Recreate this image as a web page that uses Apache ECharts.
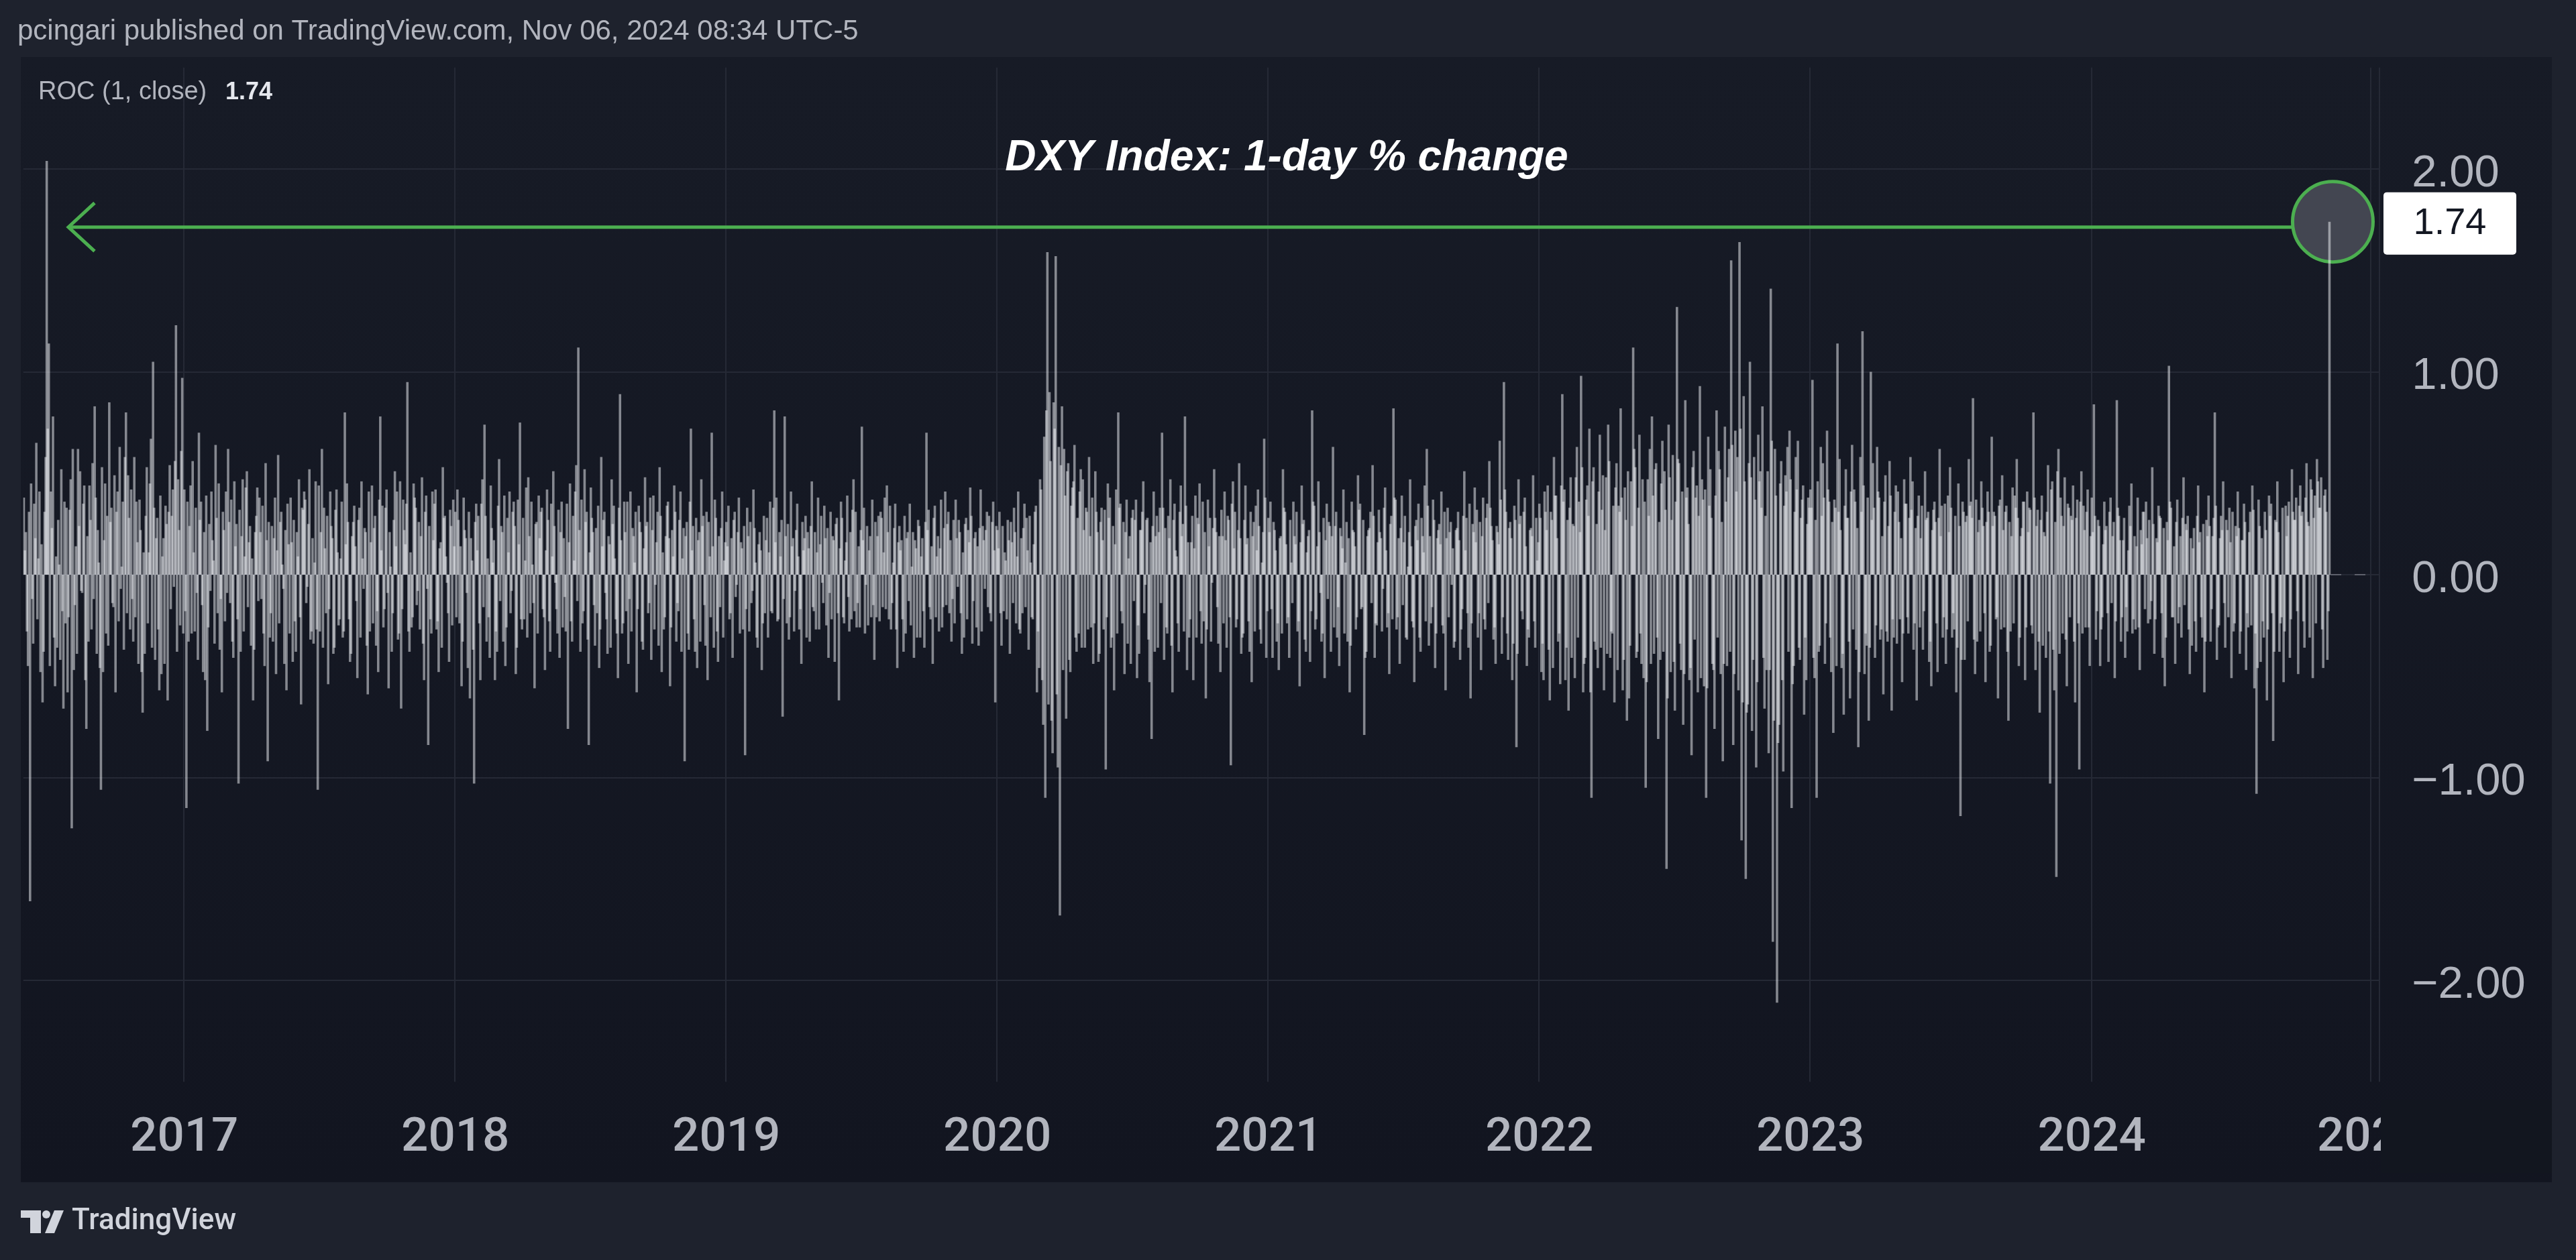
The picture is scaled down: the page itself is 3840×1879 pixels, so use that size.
<!DOCTYPE html>
<html><head><meta charset="utf-8">
<script src="https://cdn.jsdelivr.net/npm/echarts@6/dist/echarts.min.js"></script>
<style>
html,body{margin:0;padding:0;background:#1e222d;width:3840px;height:1879px;overflow:hidden}
#pane{position:absolute;left:31px;top:85px;width:3773px;height:1678px;background:linear-gradient(#171b26,#121520)}
#c{position:absolute;left:0;top:0;width:3840px;height:1879px}
</style></head><body><div id="pane"></div><div id="c"></div>
<script>
// DXY 1-day % change (ROC 1, close).
// vYYYY = odd sessions of the year (1st, 3rd, 5th ...), wYYYY = even sessions (2nd, 4th ...)
const v2016=[.38,.21,-.45,-1.61,-.12,.35,.65,.08,-.48,-.63,
.31,2.04,1.14,.41,.78,-.55,-.36,.05,.52,-.66,
-.24,-.58,.32,-1.25,-.47,.14,.62,.51,-.09,.44,
-.76,-.33,.27,.55,.83,-.39,.06,-1.06,-.48,.45,
.29,.85,.33,-.16,-.58,.41,.63,.04,-.37,.80,
.49,-.27,-.12,.58,.36,-.44,.22,-.68,-.39,.53,
.11,.67,1.05,-.42,.28,-.57,-.49,.18,.34,-.62,
.54,.29,-.06,1.23,.47,-.25,.97];
const w2016=[.12,-.28,.31,.45,-.34,.18,-.22,.41,.15,-.38,
.58,.72,-.45,.23,-.31,.09,.27,-.42,-.18,.36,
.33,-.21,.47,.62,-.15,-.39,.24,-.08,.35,-.52,
.19,.44,-.27,-.12,.38,.22,-.46,.53,.17,-.29,
-.35,.26,-.14,.49,.31,-.23,-.07,.36,.58,-.19,
.28,.42,-.33,-.21,.16,.37,-.48,.11,.29,-.24,
.45,-.36,.33,.18,-.27,.39,.09,-.44,.25,.31,
-.17,.42,.56,-.38,.22,.61,-.29];
const v2017=[.42,-1.15,-.33,.44,.56,-.28,-.09,.70,.36,-.48,
-.52,-.77,.25,.41,.07,.64,-.19,-.37,-.58,.22,
.41,.62,-.14,-.33,.46,.25,-1.03,-.38,.47,.09,
.51,.16,-.35,-.62,.21,.43,.38,-.12,-.29,.55,
-.92,-.31,.24,.18,-.49,.59,.26,.05,-.44,-.57,
.15,.38,-.43,-.23,.21,.47,-.64,.32,.37,-.06,
.52,-.28,-.34,.46,-1.06,-.28,.62,.33,-.19,-.54,
.41,.18,-.36,.42,-.25,.08,-.31,.80,.45,-.22,
-.39,.26,.14,-.51,.33,.46,-.07,.21,-.59,-.28,
.44,.23,-.35,-.48,.78,.34,-.17,.42,-.56,.04,
-.19,.51,.41,-.29,-.66,.37,.15,.95,-.38,-.26,
.45,.33,-.08,-.27,.48,-.52,.39,-.84,-.22,.41,
.35,-.27,-.48,.16,.53,.29,-.04,-.43,.24,.37];
const w2017=[-.18,.36,.24,-.29,.11,.33,-.42,.27,-.15,.21,
.39,-.26,-.08,.17,-.34,.28,.45,-.12,.31,-.23,
-.09,.26,.37,-.41,.14,-.22,.32,.19,-.28,.43,
-.16,.24,.08,-.37,.29,-.13,.21,.34,-.45,.17,
.26,-.19,-.33,.38,.12,-.24,.31,-.07,.22,.35,
-.29,.16,.27,-.38,.09,-.21,.33,.41,-.14,.25,
-.32,.18,.06,-.27,.44,.21,-.36,.13,.29,-.17,
.24,-.39,.32,.11,-.22,.36,-.28,.15,.26,-.43,
.19,.34,-.13,.27,-.31,.08,.23,-.35,.41,.16,
-.24,.29,-.18,.37,.12,-.26,.33,-.09,.21,-.38,
.27,.14,-.32,.46,-.17,.22,.35,-.28,.11,-.21,
.38,-.15,.26,.19,-.34,.31,-.07,.24,-.29,.17,
.42,-.23,.13,-.36,.28,.09,-.19,.32,-.25,.14];
const v2018=[.31,.42,-.24,-.55,.38,.18,-.46,-.61,.07,-1.03,
.35,.29,-.52,.47,.74,-.33,-.21,.44,.06,-.52,
-.38,.57,.24,-.33,-.45,.28,.41,-.08,.36,-.49,
.37,.75,-.27,-.22,.43,.48,-.19,.05,-.56,.26,
.39,.31,-.17,-.47,.42,-.23,.35,.51,-.04,-.29,
-.41,.36,.18,-.28,-.76,.45,-.33,.07,.54,1.12,
-.38,-.24,.52,.31,-.84,.43,.21,-.35,-.19,-.46,
.58,.27,-.09,-.39,.15,.47,.34,-.22,-.51,.89,
-.29,.36,-.18,-.44,.41,.23,.06,-.58,.34,.21,
-.37,.48,.26,-.14,-.42,.39,-.05,.31,.53,-.48,
-.27,.19,.36,-.55,.22,.44,-.33,-.18,.41,.08,
-.92,.26,-.37,.72,.24,-.38,-.46,.21,.47,.29,
-.35,-.52,.09,.70,-.36,.28,-.43,-.16,.41,.07];
const w2018=[-.21,.27,.14,-.33,.22,-.09,.31,.18,-.37,.26,
.12,-.24,.35,-.16,.29,.08,-.41,.23,.17,-.28,
.34,-.13,.21,.39,-.26,.11,-.19,.31,.24,-.36,
.15,-.22,.28,.07,-.31,.19,.36,-.14,.25,-.29,
.18,.33,-.21,.12,.27,-.38,.09,.24,-.17,.32,
.21,-.26,-.11,.35,.16,-.23,.29,.41,-.13,.22,
.37,-.18,.26,-.32,.11,.28,-.15,.23,.34,-.27,
.14,.31,-.22,.19,-.36,.25,.08,-.29,.33,.17,
-.24,.21,.36,-.12,-.28,.19,.31,-.17,.26,-.33,
.13,.24,-.19,.38,.22,-.27,.16,-.35,.29,.11,
-.21,.34,.18,-.26,.09,.31,-.14,.27,-.38,.23,
.19,-.29,.36,.12,-.22,.28,.17,-.33,.24,-.15,
.31,.26,-.21,.14,.37,-.28,.19,.23,-.31,.16];
const v2019=[.26,.34,-.19,-.41,.31,-.05,.38,.16,-.27,-.89,
.33,-.28,-.14,.42,.06,-.36,.21,-.47,.29,.17,
-.31,.36,-.19,.81,.38,-.22,.09,-.70,.78,-.24,
-.32,.41,.18,-.08,.35,-.27,-.44,.12,.29,.21,
-.33,.46,-.18,-.27,.38,.15,-.04,.34,-.25,-.41,
.31,.19,-.43,.28,-.62,.36,-.21,.07,.39,-.28,
-.22,.47,.31,-.14,-.26,.73,.33,-.05,-.25,.19,
.37,-.42,-.21,.29,.31,-.16,.38,.44,-.22,-.27,
.06,.35,-.46,.24,.17,-.38,-.29,.21,.35,.04,
-.41,.13,.27,-.31,.18,-.36,.70,.32,-.22,-.44,
.34,.09,-.28,.37,-.16,.41,.25,-.19,-.33,.27,
.37,-.06,.21,-.39,-.31,.28,.22,.43,-.34,.18,
-.26,-.35,.42,.24,-.07,.31,.29,-.23,.36,-.63];
const w2019=[.14,-.22,.18,.27,-.11,.21,-.29,.13,.24,-.17,
.19,.26,-.08,.23,-.31,.15,.12,-.24,-.19,.28,
.11,-.18,.33,.16,-.23,.21,.27,-.12,.19,.25,
-.21,.14,-.28,.22,.09,-.17,.26,.18,-.31,.13,
.24,-.16,.21,.11,-.27,.29,-.14,.18,.23,-.09,
-.22,.17,.25,-.19,.13,.28,-.24,.16,-.11,.21,
.32,-.18,-.26,.14,.22,.17,-.29,.24,.12,-.21,
-.15,.26,.19,-.23,.28,.11,-.17,.21,.34,-.14,
.23,-.27,.16,.12,-.22,.29,.18,-.13,-.25,.21,
.17,-.31,.24,.09,-.18,.26,.22,-.16,.14,.28,
-.21,.19,.13,-.26,.23,-.15,.31,.17,-.12,-.24,
.18,.27,-.19,.11,.25,-.22,.16,.29,-.13,.21,
.14,.23,-.28,.17,.22,-.16,-.19,.26,.12,.24];
const v2020=[.22,.31,-.35,-.18,.07,.27,-.39,.16,.33,-.24,
.41,-.29,-.19,.35,.28,-.37,.06,-.22,.31,-.58,
-.46,.42,-.74,-1.10,1.59,.90,-.72,.85,1.57,-.95,
-1.68,.83,.62,-.71,.55,-.48,.43,.64,-.38,-.29,
.52,.47,-.36,.31,.58,-.26,-.44,.51,.21,-.39,
.33,-.27,-.96,.45,.38,-.31,-.57,.42,.80,.35,
-.24,-.49,.37,.08,-.44,.32,.27,-.51,-.39,.22,
.46,-.05,.28,-.53,-.81,.41,.19,-.36,.33,.70,
-.42,-.26,.29,.47,-.58,.35,.09,-.38,.44,.25,
.78,-.47,-.31,.16,-.52,.39,.28,.45,-.34,-.23,
-.61,.37,.28,-.04,.52,.21,-.34,-.48,.19,.41,
-.36,.27,-.94,.46,.31,-.22,.55,-.39,-.29,.44,
.18,-.38,-.53,.26,.34,.42,-.27,.06,.67,-.41];
const w2020=[.13,-.19,.24,.11,-.22,.17,.26,-.14,.21,.09,
-.27,.18,.23,-.16,.12,.29,-.21,.15,.34,-.28,
.47,-.52,.68,.81,-.64,.56,-.88,.72,-.59,.63,
.54,-.47,.39,.51,-.42,.34,.46,-.31,.28,.41,
-.36,.22,.33,-.27,.19,.38,-.24,.31,-.43,.26,
.17,.32,-.21,.28,-.36,.24,.15,-.29,.33,-.18,
.26,.21,-.34,.19,.28,-.13,.37,-.25,.22,.31,
-.19,.27,-.32,.16,.24,-.38,.29,.21,-.14,.33,
.23,-.29,.18,-.35,.27,.12,-.24,.31,.19,-.28,
.34,.16,-.22,.29,.13,-.31,.25,-.18,.36,.21,
-.27,.14,-.33,.23,.28,-.16,.19,.32,-.24,.17,
.29,-.21,.35,.13,-.26,.22,.18,-.31,.27,.15,
-.23,.31,.19,-.28,.12,.24,-.34,.21,.38,-.18];
const v2021=[.28,.36,-.41,.22,-.33,-.47,.19,.52,.31,-.24,
-.41,.06,.36,.15,-.28,-.55,.44,.27,-.38,.19,
-.43,.81,.34,-.22,.46,-.09,-.29,-.51,.35,.26,
-.38,.63,.24,-.31,-.45,.19,.42,.06,-.33,-.58,
.36,.21,-.27,.49,.35,-.16,-.79,-.38,.22,.31,
.54,-.41,-.25,.32,.18,-.07,.43,-.26,-.49,.29,
.82,.37,-.21,-.44,.39,.16,-.31,.04,.47,-.23,
-.53,.27,.35,-.38,.19,.44,.62,-.35,-.24,.37,
-.46,.18,.25,.41,-.29,-.57,.33,.21,-.05,-.36,
.22,.31,-.42,-.17,.51,.28,-.36,-.61,.25,.43,
.32,-.19,-.47,.38,-.27,.35,.56,.24,-.32,-.44,
.21,.66,-.39,.95,.31,-.42,.26,-.52,.34,-.85,
.47,.29,-.22,.38,-.45,-.31,.23,.49,-.36,.07];
const w2021=[.21,-.17,.26,.12,-.24,.18,-.29,.33,.15,-.21,
.27,-.14,.19,.31,-.23,.16,.25,-.32,.11,.22,
-.18,.36,-.27,.14,.21,-.33,.28,.17,-.12,.24,
.19,-.26,.31,-.16,.23,.13,-.29,.26,.18,-.35,
.22,.14,-.21,.32,-.17,.27,-.41,.19,.23,-.14,
.29,-.24,.16,.21,-.28,.33,.12,-.19,.25,-.22,
.38,-.27,.18,.23,-.15,.29,-.32,.21,.14,-.26,
.24,.17,-.31,.28,.11,-.23,.34,.19,-.16,.27,
-.29,.22,.15,-.25,.31,.18,-.21,.26,.13,-.33,
.23,.17,-.27,.29,.12,-.19,.35,-.24,.21,.16,
-.31,.26,.19,-.22,.28,-.14,.33,.17,-.26,.24,
.15,.37,-.21,.42,-.29,.23,.18,-.34,.27,-.39,
.25,-.18,.31,.14,-.27,.22,.19,-.23,.28,.16];
const v2022=[.35,-.48,-.52,.31,.44,-.62,.27,.58,.39,-.33,
-.54,.89,.42,-.36,-.67,.48,.25,-.51,.63,.36,
.98,-.58,-.41,.44,.72,-1.10,.53,-.37,-.46,.69,
.32,-.57,.48,.74,-.41,-.29,-.63,.55,.34,.82,
-.57,.43,-.72,-.61,.46,1.12,.53,-.38,.69,-.44,
-.51,-1.05,.47,.62,.78,-.39,.55,-.81,-.42,.66,
.51,-1.45,.74,-.48,.59,-.67,1.32,.55,-.47,-.74,
.86,.43,-.52,-.89,.61,.38,-.58,.93,.47,-.55,
-1.10,.68,.52,-.44,-.76,.81,.61,-.49,-.92,.73,
-.45,.62,1.55,-.84,.71,.58,1.64,-1.31,.88,-1.50,
-.64,1.05,-.77,.58,-.95,.69,.51,.83,-.66,-.47,
-.88,1.41,-1.81,.62,-2.11,-.74,.56,-.97,.49,.63,
.71,-1.15,-.45,.58,.66,-.42,.37,-.69,-.52,.38];
const w2022=[.28,-.34,.41,.22,-.37,.31,-.46,.39,.18,-.29,
.44,.36,-.52,.27,.33,-.41,.24,.48,-.31,.21,
.53,-.44,.37,.29,-.58,.46,-.33,.25,.41,-.36,
.49,.22,-.39,.56,-.28,.34,.43,-.47,.31,.38,
-.42,.27,.51,-.35,.24,.62,-.41,.33,-.29,.47,
.36,-.53,.29,-.44,.39,.52,-.31,.26,.45,-.38,
.32,-.61,.48,.27,-.43,.36,.57,-.34,.41,-.49,
.38,.25,-.46,.53,-.32,.44,.29,-.51,.37,.42,
-.56,.34,.28,-.47,.39,-.31,.52,.26,-.44,.36,
.48,-.38,.64,-.49,.41,-.57,.72,-.63,.46,-.68,
.55,.48,-.42,.37,-.53,.46,.33,-.41,.29,.51,
-.47,.66,-.72,.39,-.83,.45,-.52,.34,.41,-.38,
.47,-.54,.31,.42,-.36,.28,.44,-.31,.25,.33];
const v2023=[.42,.96,-.51,-1.10,-.38,.63,.55,-.44,.71,.36,
-.48,-.78,.33,1.14,.57,-.46,-.69,.52,.28,-.61,
.64,.42,-.37,-.85,.58,1.20,-.49,-.35,-.72,1.00,
.55,-.41,.63,.38,-.27,-.59,.49,-.33,.56,-.67,
-.31,.44,.41,-.22,-.53,.47,.35,-.29,.58,.46,
-.24,-.62,.39,.18,-.37,.51,.28,-.43,-.55,.32,
.26,-.48,.62,.34,-.21,-.44,.39,.53,-.31,-.27,
-.58,.45,-1.19,.36,-.42,.29,.57,.36,.87,-.49,
-.33,.27,.46,.24,-.53,.41,-.38,.68,.31,-.22,
-.61,.37,.49,-.26,.34,-.72,-.28,.43,.39,.57,
-.45,.19,.36,-.52,.41,.33,-.25,.80,-.47,.32,
-.68,.39,.21,-.41,.54,-1.03,.46,-.57,-1.49,.62,
.38,-.29,.48,-.55,.33,.29,.44,-.63,.37,-.96,
.51,.34,-.26,.42,-.45];
const w2023=[.33,-.41,.27,.46,-.35,.29,.38,-.24,.42,-.31,
.26,.37,-.45,.31,.22,-.39,.34,.28,-.33,.41,
-.27,.36,.23,-.48,.31,.44,-.29,.38,-.36,.27,
.33,-.25,.41,-.32,.19,.36,-.28,.24,.39,-.22,
.31,-.34,.26,.18,-.29,.35,-.21,.28,.32,-.37,
.23,.29,-.26,.34,-.18,.27,.31,-.33,.22,.36,
-.24,.28,.19,-.31,.35,-.27,.21,.33,-.19,.29,
-.36,.24,-.42,.31,.26,-.23,.34,.28,-.32,.37,
.21,-.28,.33,-.19,.26,.31,-.35,.24,.29,-.21,
.34,-.27,.22,.31,-.38,.26,.19,-.24,.33,.28,
-.31,.23,.36,-.26,.21,.32,-.29,.38,.24,-.33,
.27,-.35,.19,.31,-.28,.42,-.37,.26,.51,-.39,
.29,.24,-.32,.35,-.21,.27,-.33,.28,-.24,.36,
-.29,.22,.31,-.26,.19];
const v2024=[.38,.84,-.32,.27,-.45,-.21,.36,.24,-.43,.38,
.19,-.51,.86,.29,-.33,.17,-.41,-.28,.34,.45,
-.22,-.27,.38,-.47,.15,.31,.36,-.24,-.22,.53,
-.39,.18,.34,.28,-.41,-.55,.26,1.03,.33,-.21,
-.44,.37,-.16,-.31,.48,.25,.29,-.49,-.35,.23,
-.38,.44,.21,-.31,-.58,.27,.39,-.33,.19,.80,
-.42,-.25,.29,.46,-.36,.22,.33,-.51,-.28,.24,
.41,-.39,.17,.35,-.47,-.26,.31,.44,-.56,-1.08,
.37,-.43,-.23,.31,-.62,.39,.35,-.82,.27,.46,
-.38,-.21,-.53,.34,.29,-.41,.52,.27,.38,-.49,
.44,.31,-.36,.55,.24,.47,-.51,.39,.57,.33,
.48,-.46,.42,-.42,1.74];
const w2024=[.21,.29,-.18,.24,-.27,.15,.22,-.19,.31,-.14,
.26,-.23,.33,.17,-.21,.28,-.16,.12,.24,-.29,
.19,.14,-.26,.22,.31,-.17,.18,.27,-.13,.25,
-.22,.16,.29,-.19,.23,-.31,.17,.36,-.21,.14,
.26,-.24,.19,.28,-.15,.22,-.27,.18,.13,-.23,
.29,.16,-.21,.25,-.33,.19,.24,-.17,.28,.34,
-.26,.18,.22,-.14,.27,-.21,.16,.31,-.24,.19,
.23,-.28,.17,.26,-.19,.21,-.25,.32,-.29,-.46,
.24,.18,-.31,.22,-.27,.29,-.19,-.38,.26,.21,
-.24,.33,-.28,.19,.36,-.22,.31,.27,-.18,.34,
.29,-.23,.38,.26,-.31,.42,.28,-.24,.46,.33,
-.27,.39,.31,-.18];

const years=[2016,2017,2018,2019,2020,2021,2022,2023,2024,2025];
const oddSessions=[v2016,v2017,v2018,v2019,v2020,v2021,v2022,v2023,v2024,[]];
const evenSessions=[w2016,w2017,w2018,w2019,w2020,w2021,w2022,w2023,w2024,[]];
// bar slots per year on the time axis (2024 includes the empty future part)
const yearSlots=[154,260,260,260,260,260,260,270,268,8];
const yTicks=[-2,-1,0,1,2];
const yearLabels=['2017','2018','2019','2020','2021','2022','2023','2024','2025'];

const cats=[],vals=[],yearStart=new Set();
years.forEach((y,k)=>{
  if(yearLabels.includes(String(y))) yearStart.add(cats.length);
  const a=oddSessions[k],b=evenSessions[k],daily=[];
  for(let i=0;i<Math.max(a.length,b.length);i++){ if(i<a.length) daily.push(a[i]); if(i<b.length) daily.push(b[i]); }
  for(let i=0;i<yearSlots[k];i++){
    cats.push(y+'-'+i);
    vals.push(i<daily.length?daily[i]:null);
  }
});
let lastIdx=-1; vals.forEach((v,i)=>{if(v!==null) lastIdx=i;});
const lastVal=vals[lastIdx];
const isYear=(idx)=>yearStart.has(idx);
const fmtY=v=>{ if(!yTicks.includes(v)) return ''; return '{a|'+(v<0?'\u2212':'')+Math.abs(v).toFixed(2)+'}'; };

const grid='#252935';
const chart=echarts.init(document.getElementById('c'),null,{renderer:'canvas'});
chart.setOption({
  animation:false,
  backgroundColor:'transparent',
  grid:{left:34.7,top:100.75,width:3511.6,height:1512.5},
  xAxis:{type:'category',data:cats,boundaryGap:true,
    axisLine:{show:false},axisTick:{show:false},
    axisLabel:{interval:isYear,formatter:v=>v.slice(0,4),color:'#b2b5be',fontFamily:'Roboto',fontWeight:500,fontSize:71,margin:85,verticalAlign:'middle'},
    splitLine:{show:true,interval:isYear,lineStyle:{color:grid,width:2}}},
  yAxis:{type:'value',position:'right',min:-2.5,max:2.5,interval:0.5,
    axisLine:{show:false},axisTick:{show:false},
    axisLabel:{margin:49,align:'left',verticalAlign:'middle',formatter:fmtY,
      rich:{a:{color:'#b2b5be',fontFamily:'Liberation Sans',fontSize:67,padding:[15,0,0,0]}}},
    splitLine:{show:true,showMinLine:true,showMaxLine:true,lineStyle:{color:['rgba(0,0,0,0)',grid],width:2}}},
  series:[{type:'bar',data:vals,barWidth:3.6,z:2,
    itemStyle:{color:'rgba(246,247,251,0.5)'},
    markLine:{silent:true,symbol:['none','none'],label:{show:false},animation:false,
      lineStyle:{color:'#5d606b',width:2,type:[16,20]},
      data:[[{coord:[cats[lastIdx+1],0]},{coord:[cats[cats.length-1],0]}]]}}]
});

const p=chart.convertToPixel({seriesIndex:0},[cats[lastIdx],lastVal]);
const cx=p[0]+5, cy=p[1], r=60, ay=cy+8;
const G='#4caf50';
chart.setOption({graphic:[
  {type:'text',x:26,y:47,z:10,style:{text:'pcingari published on TradingView.com, Nov 06, 2024 08:34 UTC-5',fill:'#b2b5be',font:'42px "Liberation Sans"',textVerticalAlign:'middle'}},
  {type:'text',x:57,y:138,z:10,style:{text:'ROC (1, close)',fill:'#b2b5be',font:'38px "Liberation Sans"',textVerticalAlign:'middle'}},
  {type:'text',x:336,y:138,z:10,style:{text:lastVal.toFixed(2),fill:'#e6e8ee',font:'bold 36px "Liberation Sans"',textVerticalAlign:'middle'}},
  {type:'text',x:1918,y:236,z:10,style:{text:'DXY Index: 1-day % change',fill:'#ffffff',font:'italic bold 64px "Liberation Sans"',textAlign:'center',textVerticalAlign:'middle'}},
  {type:'line',z:10,shape:{x1:102,y1:ay,x2:cx-r,y2:ay},style:{stroke:G,lineWidth:5}},
  {type:'polyline',z:10,shape:{points:[[141,ay-36],[102,ay],[141,ay+36]]},style:{stroke:G,lineWidth:5,fill:null,lineJoin:'miter'}},
  {type:'circle',z:1,shape:{cx:cx,cy:cy,r:r},style:{fill:'#434651',stroke:G,lineWidth:5}},
  {type:'rect',z:10,shape:{x:3553,y:cy-44,width:198,height:93,r:5},style:{fill:'#ffffff'}},
  {type:'text',x:3652,y:cy+3,z:11,style:{text:lastVal.toFixed(2),fill:'#131722',font:'56px "Liberation Sans"',textAlign:'center',textVerticalAlign:'middle'}},
  {type:'rect',z:20,shape:{x:3549,y:1640,width:255,height:110},style:{fill:'#12161f'}},
  {type:'rect',z:10,shape:{x:31,y:1805,width:30,height:11},style:{fill:'#d1d4dc'}},
  {type:'rect',z:10,shape:{x:45,y:1805,width:16,height:34},style:{fill:'#d1d4dc'}},
  {type:'circle',z:10,shape:{cx:69,cy:1811,r:6},style:{fill:'#d1d4dc'}},
  {type:'polygon',z:10,shape:{points:[[81,1805],[95,1805],[81,1839],[67,1839]]},style:{fill:'#d1d4dc'}},
  {type:'text',x:107,y:1822,z:10,style:{text:'TradingView',fill:'#d1d4dc',font:'500 44px Roboto',textVerticalAlign:'middle'}}
]});
</script></body></html>
